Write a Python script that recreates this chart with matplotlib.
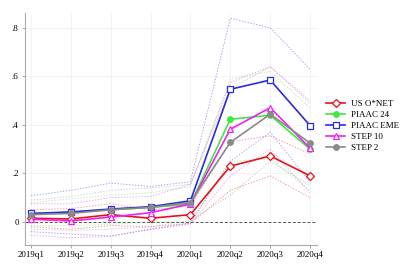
import matplotlib.pyplot as plt
import numpy as np

plt.rcParams['font.family'] = ['Liberation Serif', 'DejaVu Serif']

quarters = ['2019q1', '2019q2', '2019q3', '2019q4', '2020q1', '2020q2', '2020q3', '2020q4']

# point estimates
us_onet = [0.015, 0.012, 0.030, 0.015, 0.030, 0.230, 0.272, 0.190]
piaac_24 = [0.033, 0.040, 0.050, 0.060, 0.073, 0.423, 0.440, 0.300]
piaac_eme = [0.035, 0.041, 0.053, 0.063, 0.087, 0.547, 0.585, 0.397]
step_10 = [0.011, 0.004, 0.020, 0.038, 0.074, 0.382, 0.471, 0.304]
step_2 = [0.030, 0.035, 0.050, 0.060, 0.080, 0.328, 0.444, 0.325]

# confidence band bounds (dotted)
us_onet_lo = [-0.020, -0.030, -0.015, -0.020, -0.005, 0.130, 0.190, 0.100]
us_onet_hi = [0.050, 0.055, 0.075, 0.050, 0.065, 0.330, 0.355, 0.280]
piaac_24_lo = [-0.015, -0.015, -0.010, 0.000, 0.000, 0.250, 0.260, 0.130]
piaac_24_hi = [0.080, 0.095, 0.110, 0.120, 0.145, 0.590, 0.620, 0.470]
piaac_eme_lo = [-0.040, -0.050, -0.058, -0.030, -0.005, 0.250, 0.370, 0.165]
piaac_eme_hi = [0.108, 0.130, 0.160, 0.146, 0.166, 0.840, 0.800, 0.630]
step_10_lo = [-0.055, -0.065, -0.060, -0.030, -0.010, 0.190, 0.300, 0.120]
step_10_hi = [0.075, 0.075, 0.100, 0.105, 0.155, 0.575, 0.640, 0.490]
step_2_lo = [-0.030, -0.035, -0.030, -0.020, 0.005, 0.110, 0.250, 0.150]
step_2_hi = [0.090, 0.105, 0.130, 0.140, 0.155, 0.550, 0.640, 0.500]

series = [
    ('US O*NET', us_onet, us_onet_lo, us_onet_hi, '#e8101a', 'D', 'none'),
    ('PIAAC 24', piaac_24, piaac_24_lo, piaac_24_hi, '#3ee83e', 'o', 'fill'),
    ('PIAAC EME', piaac_eme, piaac_eme_lo, piaac_eme_hi, '#2a2ae0', 's', 'none'),
    ('STEP 10', step_10, step_10_lo, step_10_hi, '#f020f0', '^', 'none'),
    ('STEP 2', step_2, step_2_lo, step_2_hi, '#8a8a8a', 'o', 'fill'),
]

x = np.arange(len(quarters))

fig = plt.figure(figsize=(4.15, 2.68), dpi=100)
ax = fig.add_axes([0.060, 0.086, 0.704, 0.866])

ax.axhline(0, color='#555555', lw=0.7, ls=(0, (3, 2)), zorder=1)

# dotted bands
for name, est, lo, hi, col, mk, fill in series:
    ax.plot(x, lo, color=col, lw=0.7, ls=(0, (1.5, 1.5)), alpha=0.4, zorder=2)
    ax.plot(x, hi, color=col, lw=0.7, ls=(0, (1.5, 1.5)), alpha=0.4, zorder=2)

for name, est, lo, hi, col, mk, fill in series:
    ms = 3.8 if mk != 'o' else 4.0
    ax.plot(x, est, color=col, lw=1.2, marker=mk, ms=ms,
            mfc=(col if fill == 'fill' else 'white'), mec=col, mew=0.9,
            label=name, zorder=3)

ax.set_xlim(-0.15, 7.175)
ax.set_ylim(-0.095, 0.862)
ax.set_xticks(x)
ax.set_xticklabels(quarters)
ax.set_yticks([0, 0.2, 0.4, 0.6, 0.8])
ax.set_yticklabels(['0', '.2', '.4', '.6', '.8'])
ax.tick_params(labelsize=6.5, length=2.5, width=0.6, color='#999999', pad=2)
ax.grid(True, color='#eeeeee', lw=0.5)
ax.set_axisbelow(True)
for s in ['top', 'right']:
    ax.spines[s].set_visible(False)
for s in ['left', 'bottom']:
    ax.spines[s].set_color('#aaaaaa')
    ax.spines[s].set_linewidth(0.8)

leg = fig.legend(loc='center left', bbox_to_anchor=(0.765, 0.53), frameon=False,
                 fontsize=6.5, handlelength=2.2, labelspacing=0.3, handletextpad=0.6)

fig.savefig('out.png', dpi=100, facecolor='white')
